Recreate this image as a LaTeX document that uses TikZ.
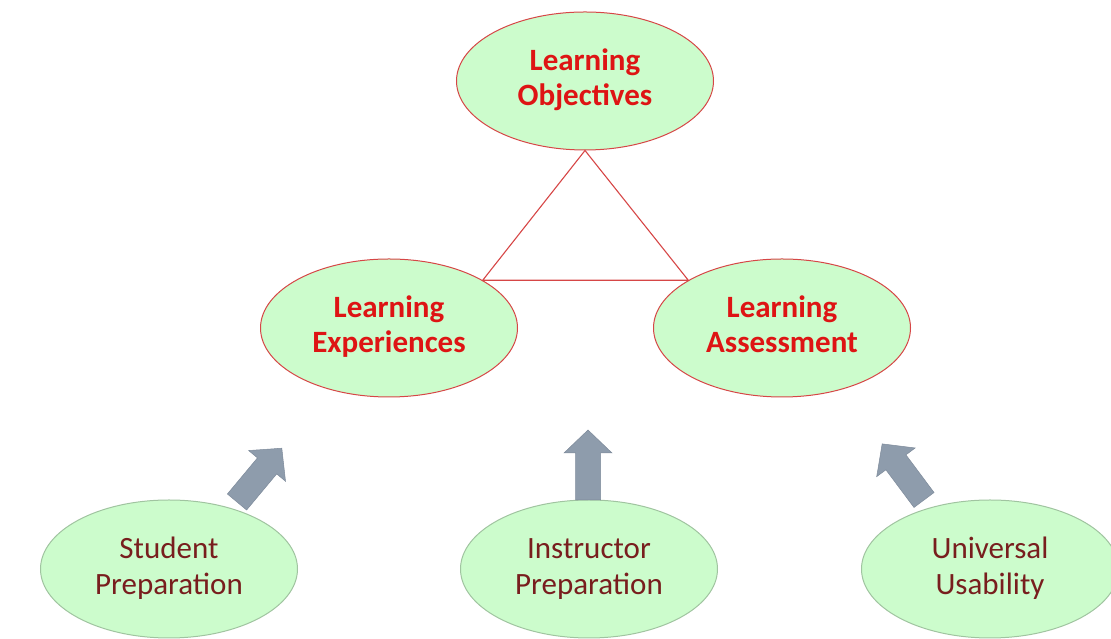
\documentclass[tikz,border=0pt]{standalone}
\usepackage{fontspec}
\setmainfont{Carlito}
\usetikzlibrary{shapes.geometric}
\definecolor{mint}{RGB}{204,252,204}
\definecolor{redline}{RGB}{214,70,70}
\definecolor{redtext}{RGB}{222,20,20}
\definecolor{browntext}{RGB}{120,30,30}
\definecolor{greenline}{RGB}{160,196,160}
\definecolor{arrowfill}{RGB}{142,156,172}
\definecolor{arrowline}{RGB}{125,138,154}
\newcommand{\twolines}[2]{\strut#1\\\strut#2}
\tikzset{
  bubble/.style={ellipse, fill=mint, minimum width=257pt, minimum height=138pt,
    inner sep=0pt, align=center},
  corebubble/.style={bubble, draw=redline, line width=1pt,
    text=redtext, font=\fontsize{31}{35}\selectfont\bfseries},
  basebubble/.style={bubble, draw=greenline, line width=1pt,
    text=browntext, font=\fontsize{31}{36}\selectfont},
  link/.style={draw=redline, line width=1.1pt},
  pics/uparrow/.style={code={
    \fill[arrowfill, draw=arrowline, line width=0.5pt]
      (-12.5,0) -- (-12.5,47) -- (-24,47) -- (0,70) -- (24,47)
      -- (12.5,47) -- (12.5,0) -- cycle;
  }}
}
\begin{document}
\begin{tikzpicture}[x=1pt, y=1pt]
  \useasboundingbox (0,0) rectangle (1111,639);

  % the three core elements
  \node[corebubble] (obj) at (585,558) {\twolines{Learning}{Objectives}};
  \node[corebubble] (exp) at (389,311) {\twolines{Learning}{Experiences}};
  \node[corebubble] (ass) at (782,311) {\twolines{Learning}{Assessment}};

  % triangle joining them
  \draw[link] (obj.south) -- (exp.27) -- (ass.153) -- cycle;

  % supporting factors
  \begin{scope}
    \clip (0,0) rectangle (1111,639);
    \node[basebubble] (stu) at (169,70) {\twolines{Student}{Preparation}};
    \node[basebubble] (ins) at (589,70) {\twolines{Instructor}{Preparation}};
    \node[basebubble] (uni) at (990,70) {\twolines{Universal}{Usability}};
  \end{scope}

  % arrows pointing up to the core
  \pic[rotate=-39.8] at (237,137) {uparrow};
  \pic at (588,139) {uparrow};
  \pic[rotate=36.7] at (924,139) {uparrow};
\end{tikzpicture}
\end{document}
